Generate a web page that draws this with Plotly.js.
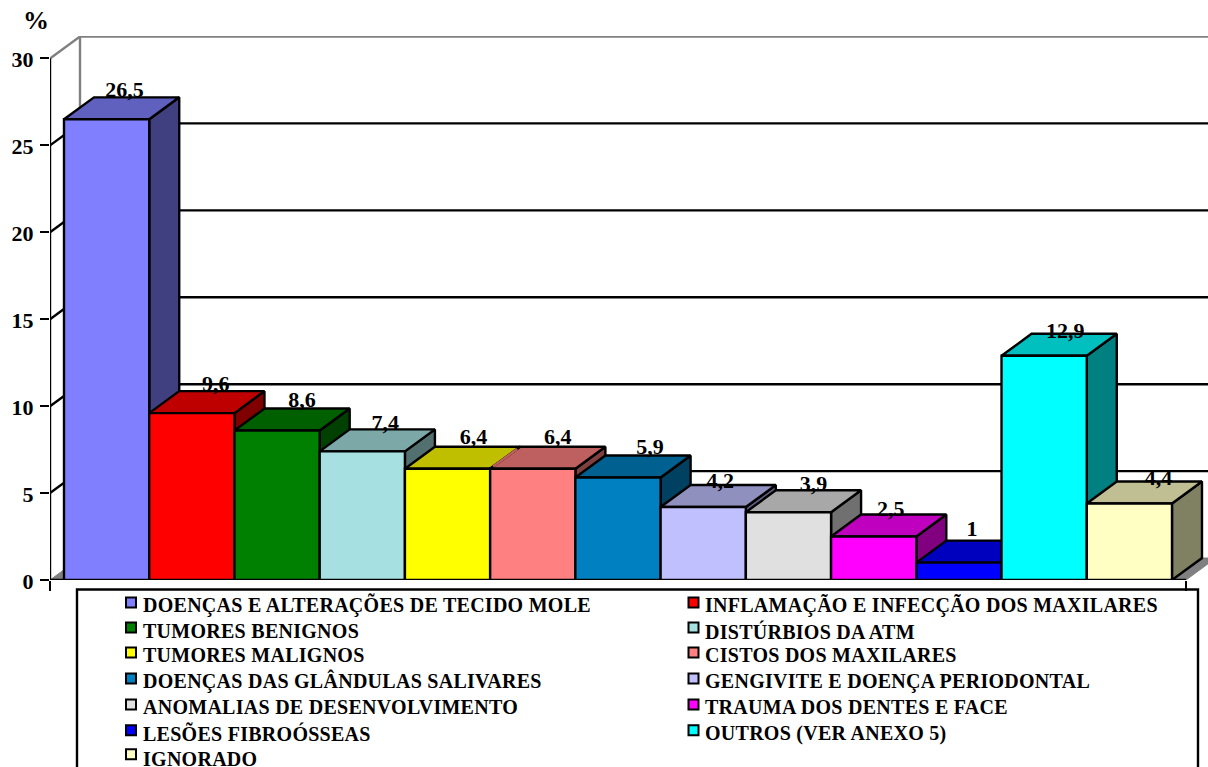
<!DOCTYPE html>
<html>
<head>
<meta charset="utf-8">
<script src="https://cdn.plot.ly/plotly-3.0.1.min.js"></script>
<style>
html,body{margin:0;padding:0;background:#fff;overflow:hidden}
/* Slight tracking on the legend labels; declared up front so text measurement includes it */
.annotation-text{letter-spacing:0.27px}
</style>
</head>
<body>
<div id="chart" style="width:1208px;height:767px"></div>
<script>
// Diagnoses, in legend order, and their share in percent
const categories = [
  'DOENÇAS E ALTERAÇÕES DE TECIDO MOLE', 'INFLAMAÇÃO E INFECÇÃO DOS MAXILARES',
  'TUMORES BENIGNOS', 'DISTÚRBIOS DA ATM',
  'TUMORES MALIGNOS', 'CISTOS DOS MAXILARES',
  'DOENÇAS DAS GLÂNDULAS SALIVARES', 'GENGIVITE E DOENÇA PERIODONTAL',
  'ANOMALIAS DE DESENVOLVIMENTO', 'TRAUMA DOS DENTES E FACE',
  'LESÕES FIBROÓSSEAS', 'OUTROS (VER ANEXO 5)',
  'IGNORADO'
];
const percentages = [26.5, 9.6, 8.6, 7.4, 6.4, 6.4, 5.9, 4.2, 3.9, 2.5, 1, 12.9, 4.4];
const frontColors = ['#8080FF', '#FF0000', '#008000', '#A6E0E0', '#FFFF00', '#FF8080', '#0080C0',
                     '#C0C0FF', '#E0E0E0', '#FF00FF', '#0000FF', '#00FFFF', '#FFFFC4'];
const valueTicks = [0, 5, 10, 15, 20, 25, 30];

// Pixel nudges of the value labels away from the back top edge of each box
const labelShiftPx = [18, 24, 25, 23, 26, 25, 32, 17, 25, 17, 13, 21, 29];
const labelLiftPx  = [6, 6, 7, 5, 8, 8, 7, 3, 5, 4.5, 10.5, 1.5, 2];
// Vertical centres of the legend rows and of their swatches, in pixels from the top
const legendTextRows = [606, 632, 656, 682, 708, 734, 760];
const legendSwatchRows = [603, 628, 653, 679, 705, 731, 755];
const legendTextX = [142, 704];
const legendSwatchX = [131, 693.5];

// Figure geometry
const W = 1208, H = 767;
const PLOT_L = 50, PLOT_T = 36, PLOT_B = 580.5, PLOT_R = W;
const PX_PER_X = 85.23, PX_PER_Y = 17.4;
// Oblique projection of the box depth, in axis units
const DX = 30 / PX_PER_X, DY = 22 / PX_PER_Y;
const XMIN = -14 / PX_PER_X, XEND = 13 + 14 / PX_PER_X, YTOP = 30;
const XLIM = XMIN + (PLOT_R - PLOT_L) / PX_PER_X, YLIM = (PLOT_B - PLOT_T) / PX_PER_Y;
const FONT = 'Liberation Serif, Times New Roman, serif';
const GREY = '#808080', LW = 2.4;

const paperX = px => (px - PLOT_L) / (PLOT_R - PLOT_L);
const paperY = py => (PLOT_B - py) / (PLOT_B - PLOT_T);

function shade(hex, f) {
  const n = parseInt(hex.slice(1), 16);
  const c = [n >> 16, (n >> 8) & 255, n & 255].map(v => Math.round(v * f));
  return 'rgb(' + c.join(',') + ')';
}
function poly(xs, ys, fill, lineColor, lineWidth) {
  return {type: 'scatter', mode: 'lines', x: xs, y: ys, fill: 'toself', fillcolor: fill,
          line: {color: lineColor, width: lineWidth},
          showlegend: false, hoverinfo: 'skip', xaxis: 'x', yaxis: 'y'};
}
function segment(xs, ys, color) {
  return {type: 'scatter', mode: 'lines', x: xs, y: ys, line: {color: color, width: LW},
          showlegend: false, hoverinfo: 'skip', xaxis: 'x', yaxis: 'y'};
}

const traces = [];

// Back wall: horizontal rules, side-wall diagonals and the floor
valueTicks.forEach(v => {
  if (v === 0) return;
  const color = v === YTOP ? GREY : '#000';
  traces.push(segment([XMIN + DX, XLIM], [v + DY, v + DY], color));
  traces.push(segment([XMIN, XMIN + DX], [v, v + DY], color));
});
traces.push(segment([XMIN + DX, XMIN + DX], [DY, YTOP + DY], GREY));
traces.push(poly([XMIN, XMIN + DX, XLIM, XLIM, XEND, XMIN],
                 [0, DY, DY, DY * (XLIM - XEND) / DX, 0, 0], GREY, GREY, 1));

// Axis lines stop at the front plane
traces.push(segment([XMIN, XMIN], [0, YTOP], '#000'));
traces.push(segment([XMIN, XEND], [0, 0], '#000'));

// Side and top faces, left to right so nearer boxes hide farther ones
percentages.forEach((v, i) => {
  const l = i, r = i + 1;
  traces.push(poly([r, r + DX, r + DX, r, r], [0, DY, v + DY, v, 0],
                   shade(frontColors[i], 0.5), '#000', LW));
  traces.push(poly([l, l + DX, r + DX, r, l], [v, v + DY, v + DY, v, v],
                   shade(frontColors[i], 0.75), '#000', LW));
  // Boxes of equal height share one unbroken top, with no edge between them
  if (i > 0 && percentages[i - 1] === v) {
    traces.push(segment([l + 0.1 * DX, l + 0.9 * DX], [v + 0.1 * DY, v + 0.9 * DY],
                        shade(frontColors[i], 0.75)));
  }
});

// Front faces sit on an overlaid subplot so they cover every side and top face
percentages.forEach((v, i) => {
  traces.push({type: 'bar', name: categories[i], x: [i + 0.5], y: [v], width: 1,
               marker: {color: frontColors[i], line: {color: '#000', width: LW}},
               showlegend: false, hoverinfo: 'name+y', xaxis: 'x2', yaxis: 'y2'});
});

// Value labels, with a decimal comma
traces.push({type: 'scatter', mode: 'text',
             x: percentages.map((v, i) => i + 0.5 + labelShiftPx[i] / PX_PER_X),
             y: percentages.map((v, i) => v + DY + labelLiftPx[i] / PX_PER_Y),
             text: percentages.map(v => String(v).replace('.', ',')),
             textposition: 'middle center', cliponaxis: false,
             textfont: {family: FONT, size: 22, color: '#000', weight: 700},
             showlegend: false, hoverinfo: 'skip', xaxis: 'x2', yaxis: 'y2'});

// Legend panel: the frame runs past the bottom of the figure, entries in two columns
const shapes = [{type: 'rect', xref: 'paper', yref: 'paper', layer: 'below',
                 x0: paperX(77), x1: paperX(1198), y0: paperY(790), y1: paperY(590),
                 fillcolor: '#fff', line: {color: '#000', width: LW}}];
const annotations = [{text: '<b>%</b>', xref: 'paper', yref: 'paper',
                      x: paperX(36), y: paperY(20), xanchor: 'center', yanchor: 'middle',
                      showarrow: false, font: {family: FONT, size: 26, color: '#000'}}];
categories.forEach((name, i) => {
  const col = i % 2, row = Math.floor(i / 2);
  const sx = legendSwatchX[col], sy = legendSwatchRows[row];
  shapes.push({type: 'rect', xref: 'paper', yref: 'paper', layer: 'above',
               x0: paperX(sx - 5), x1: paperX(sx + 5), y0: paperY(sy + 5), y1: paperY(sy - 5),
               fillcolor: frontColors[i], line: {color: '#000', width: 2}});
  annotations.push({text: name, xref: 'paper', yref: 'paper',
                    x: paperX(legendTextX[col]), y: paperY(legendTextRows[row]),
                    xanchor: 'left', yanchor: 'middle', showarrow: false, borderpad: 0,
                    font: {family: FONT, size: 20, color: '#000', weight: 700}});
});

const layout = {
  width: W, height: H,
  margin: {l: PLOT_L, r: W - PLOT_R, t: PLOT_T, b: H - PLOT_B, pad: 0, autoexpand: false},
  paper_bgcolor: '#fff', plot_bgcolor: 'rgba(0,0,0,0)',
  barmode: 'overlay',
  font: {family: FONT, color: '#000'},
  xaxis: {range: [XMIN, XLIM], tickmode: 'array', tickvals: [XMIN, XEND],
          showticklabels: false, ticks: 'outside', ticklen: 10, tickwidth: 2, tickcolor: '#000',
          showgrid: false, zeroline: false, showline: false, fixedrange: true},
  yaxis: {range: [0, YLIM], tickmode: 'array', tickvals: valueTicks,
          ticks: 'outside', ticklen: 9, tickwidth: 2, tickcolor: '#000', ticklabelstandoff: 2,
          ticklabelshift: 1,
          tickfont: {family: FONT, size: 22, color: '#000', weight: 700},
          showgrid: false, zeroline: false, showline: false, fixedrange: true},
  xaxis2: {range: [XMIN, XLIM], overlaying: 'x', visible: false, fixedrange: true},
  yaxis2: {range: [0, YLIM], overlaying: 'y', visible: false, fixedrange: true},
  showlegend: false,
  shapes: shapes,
  annotations: annotations
};

Plotly.newPlot('chart', traces, layout, {displayModeBar: false, responsive: false});
</script>
</body>
</html>
